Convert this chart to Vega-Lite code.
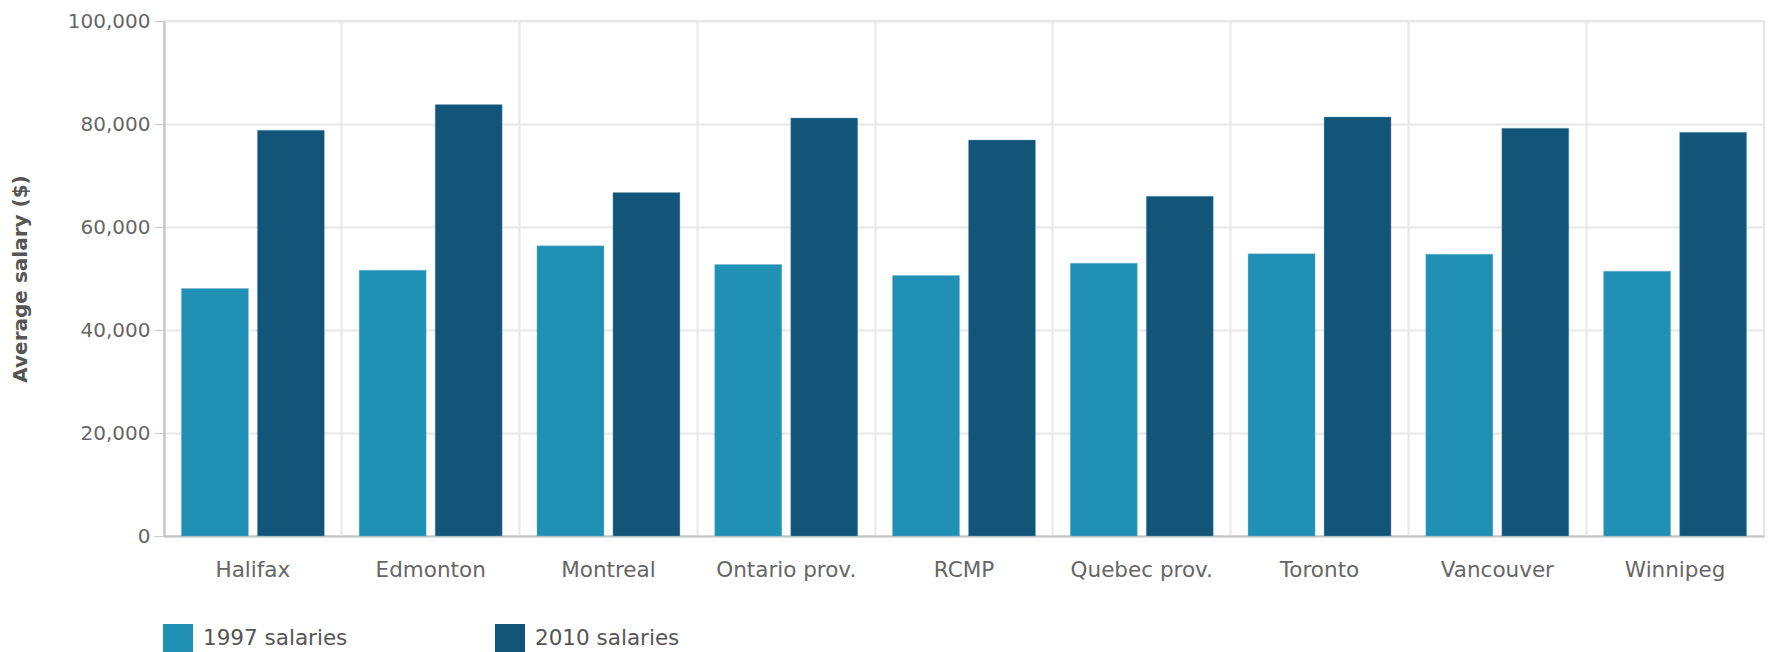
{
  "$schema": "https://vega.github.io/schema/vega-lite/v6.json",
  "autosize": "none",
  "width": 1600,
  "height": 515,
  "padding": {"left": 164, "top": 21, "right": 5, "bottom": 116},
  "config": {
    "font": "DejaVu Sans",
    "view": {"stroke": "#dddddd", "strokeWidth": 1.5},
    "axis": {"labelFont": "DejaVu Sans", "titleFont": "DejaVu Sans"}
  },
  "data": {
    "values": [
      {"city": "Halifax", "series": "1997 salaries", "salary": 48070},
      {"city": "Halifax", "series": "2010 salaries", "salary": 78790},
      {"city": "Edmonton", "series": "1997 salaries", "salary": 51620},
      {"city": "Edmonton", "series": "2010 salaries", "salary": 83770},
      {"city": "Montreal", "series": "1997 salaries", "salary": 56340},
      {"city": "Montreal", "series": "2010 salaries", "salary": 66690},
      {"city": "Ontario prov.", "series": "1997 salaries", "salary": 52720},
      {"city": "Ontario prov.", "series": "2010 salaries", "salary": 81180},
      {"city": "RCMP", "series": "1997 salaries", "salary": 50590},
      {"city": "RCMP", "series": "2010 salaries", "salary": 76910},
      {"city": "Quebec prov.", "series": "1997 salaries", "salary": 52980},
      {"city": "Quebec prov.", "series": "2010 salaries", "salary": 65980},
      {"city": "Toronto", "series": "1997 salaries", "salary": 54790},
      {"city": "Toronto", "series": "2010 salaries", "salary": 81370},
      {"city": "Vancouver", "series": "1997 salaries", "salary": 54720},
      {"city": "Vancouver", "series": "2010 salaries", "salary": 79180},
      {"city": "Winnipeg", "series": "1997 salaries", "salary": 51430},
      {"city": "Winnipeg", "series": "2010 salaries", "salary": 78400}
    ]
  },
  "layer": [
    {
      "mark": {"type": "bar", "stroke": "#6fb3cc", "strokeWidth": 0.6, "strokeOpacity": 0.6},
      "encoding": {
        "x": {
          "field": "city", "type": "nominal", "sort": null,
          "scale": {"paddingInner": 0, "paddingOuter": 0},
          "axis": {
            "title": null, "labelAngle": 0, "ticks": false,
            "labelFontSize": 21.5, "labelColor": "#666666", "labelPadding": 23,
            "domainColor": "#c4c4c4", "domainWidth": 2, "grid": false
          }
        },
        "xOffset": {
          "field": "series", "type": "nominal",
          "scale": {"paddingInner": 0.118, "paddingOuter": 0.229}
        },
        "y": {
          "field": "salary", "type": "quantitative",
          "scale": {"domain": [0, 100000], "nice": false},
          "axis": {
            "title": "Average salary ($)", "values": [0, 20000, 40000, 60000, 80000, 100000],
            "format": ",d", "labelFontSize": 20, "labelColor": "#666666",
            "tickSize": 10, "tickColor": "#cccccc", "labelPadding": 4,
            "domainColor": "#c4c4c4", "domainWidth": 2,
            "gridColor": "#e8e8e8", "gridWidth": 2,
            "titleFontSize": 20, "titleFontWeight": "bold", "titleColor": "#555555",
            "titlePadding": 37
          }
        },
        "color": {
          "field": "series", "type": "nominal",
          "scale": {"domain": ["1997 salaries", "2010 salaries"], "range": ["#2090b5", "#135479"]},
          "legend": {
            "title": null, "orient": "none", "legendX": -1, "legendY": 603,
            "direction": "horizontal", "symbolType": "square", "symbolSize": 900,
            "symbolStrokeWidth": 0, "labelFontSize": 21.5, "labelColor": "#555555",
            "labelOffset": 10, "columnPadding": 147
          }
        }
      }
    },
    {
      "mark": {"type": "rule", "opacity": 0},
      "encoding": {
        "x": {
          "field": "city", "type": "nominal", "sort": null,
          "axis": {
            "title": null, "labels": false, "ticks": false, "domain": false,
            "grid": true, "bandPosition": 0, "gridColor": "#e8e8e8", "gridWidth": 2
          }
        }
      }
    }
  ],
  "resolve": {"axis": {"x": "independent"}}
}
